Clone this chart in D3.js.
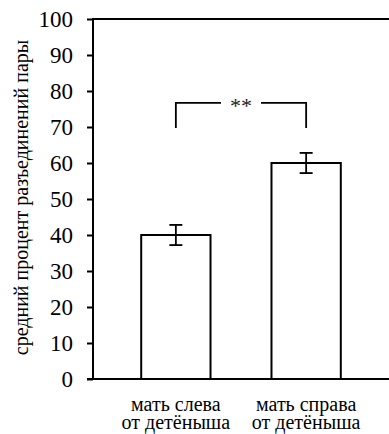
<!DOCTYPE html>
<html>
<head>
<meta charset="utf-8">
<script src="https://cdn.jsdelivr.net/npm/d3@7"></script>
</head>
<body style="margin:0">
<svg id="chart" width="389" height="434"></svg>
<script>
// Mean percentage of pair separations by mother position
const categories = ["мать слева\nот детёныша", "мать справа\nот детёныша"];
const means = [40, 60];
const errors = [2.8, 2.8];
const yTicks = [0, 10, 20, 30, 40, 50, 60, 70, 80, 90, 100];
const yTitle = "средний процент разъединений пары";
const sigLabel = "**";
const sigLevel = 76.7;
const sigDrop = 69.7;

const FONT = "Liberation Serif";
const W = 389, H = 434;
const margin = { top: 19, right: 0, bottom: 55, left: 93 };

const svg = d3.select("#chart");

const x = d3.scaleBand()
  .domain(categories)
  .range([margin.left, W - margin.right])
  .paddingInner(0.468)
  .paddingOuter(0.37);

const y = d3.scaleLinear()
  .domain([0, 100])
  .range([H - margin.bottom, margin.top]);

// Bars
svg.append("g").selectAll("rect")
  .data(categories)
  .join("rect")
  .attr("x", d => x(d))
  .attr("y", (d, i) => y(means[i]))
  .attr("width", x.bandwidth())
  .attr("height", (d, i) => y(0) - y(means[i]))
  .attr("fill", "#fff")
  .attr("stroke", "#000")
  .attr("stroke-width", 2);

// Error bars
const eb = svg.append("g").attr("stroke", "#000").attr("stroke-width", 1.8);
categories.forEach((c, i) => {
  const cx = x(c) + x.bandwidth() / 2;
  const hi = y(means[i] + errors[i]), lo = y(means[i] - errors[i]);
  eb.append("line").attr("x1", cx).attr("x2", cx).attr("y1", hi).attr("y2", lo);
  eb.append("line").attr("x1", cx - 6.5).attr("x2", cx + 6.5).attr("y1", hi).attr("y2", hi);
  eb.append("line").attr("x1", cx - 6.5).attr("x2", cx + 6.5).attr("y1", lo).attr("y2", lo);
});

// Y axis
const yAxis = svg.append("g")
  .attr("transform", `translate(${margin.left},0)`)
  .call(d3.axisLeft(y).tickValues(yTicks).tickSize(6).tickPadding(14));
yAxis.attr("font-family", null).attr("font-size", null);
yAxis.select(".domain").attr("stroke", "#000").attr("stroke-width", 2)
  .attr("d", `M0,${y(0)}V${y(100)}`);
yAxis.selectAll(".tick line").attr("stroke", "#000").attr("stroke-width", 2);
yAxis.selectAll(".tick text")
  .style("font-family", FONT)
  .attr("font-size", 23)
  .attr("fill", "#000")
  .attr("dy", "0.34em");

// Bottom axis line and top border line
svg.append("line")
  .attr("x1", margin.left - 6).attr("x2", W)
  .attr("y1", y(0)).attr("y2", y(0))
  .attr("stroke", "#000").attr("stroke-width", 2);
svg.append("line")
  .attr("x1", margin.left - 1).attr("x2", W)
  .attr("y1", y(100)).attr("y2", y(100))
  .attr("stroke", "#000").attr("stroke-width", 2);

// Category labels (two lines each)
categories.forEach(c => {
  const cx = x(c) + x.bandwidth() / 2;
  c.split("\n").forEach((line, k) => {
    svg.append("text")
      .attr("x", cx).attr("y", 411 + k * 18)
      .attr("text-anchor", "middle")
      .style("font-family", FONT)
      .attr("font-size", 20)
      .attr("fill", "#000")
      .text(line);
  });
});

// Y title
svg.append("text")
  .attr("transform", `translate(28,${(y(0) + y(100)) / 2 - 1.5}) rotate(-90)`)
  .attr("text-anchor", "middle")
  .style("font-family", FONT)
  .attr("font-size", 20)
  .attr("fill", "#000")
  .text(yTitle);

// Significance bracket
const c1 = x(categories[0]) + x.bandwidth() / 2;
const c2 = x(categories[1]) + x.bandwidth() / 2;
const mid = (c1 + c2) / 2;
const gap = 20;
const br = svg.append("g").attr("stroke", "#000").attr("stroke-width", 1.8).attr("fill", "none");
br.append("path").attr("d", `M${c1},${y(sigDrop)}V${y(sigLevel)}H${mid - gap}`);
br.append("path").attr("d", `M${mid + gap},${y(sigLevel)}H${c2}V${y(sigDrop)}`);
svg.append("text")
  .attr("x", mid).attr("y", y(sigLevel) + 10.5)
  .attr("text-anchor", "middle")
  .style("font-family", FONT)
  .attr("font-size", 22)
  .attr("fill", "#222")
  .text(sigLabel);
</script>
</body>
</html>
